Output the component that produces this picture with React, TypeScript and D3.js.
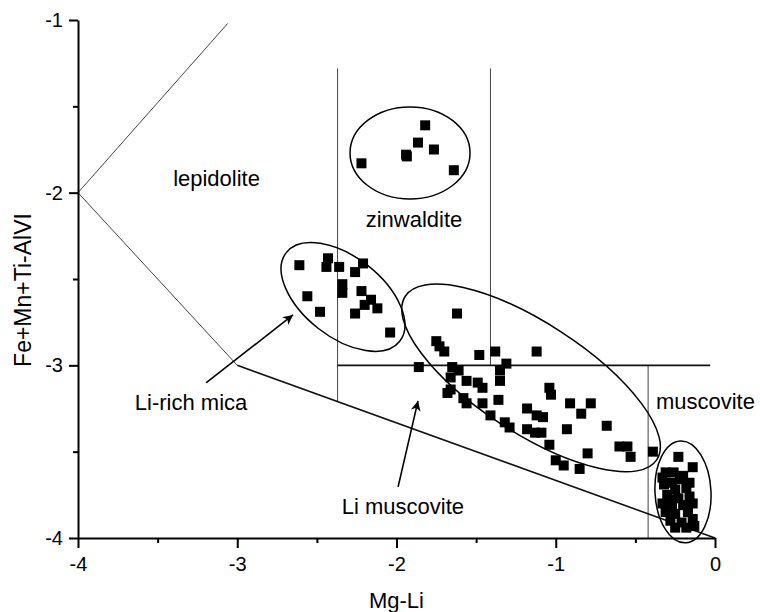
import React, { useRef, useEffect } from 'react';
import * as d3 from 'd3';

// Mg-Li (x) vs Fe+Mn+Ti-AlVI (y), one list per group
const zinwalditePts: [number, number][] = [
  [-1.82, -1.61], [-1.865, -1.71], [-1.765, -1.75], [-1.94, -1.78], [-1.935, -1.79],
  [-2.22, -1.83], [-1.64, -1.87],
];

const liRichMicaPts: [number, number][] = [
  [-2.61, -2.42], [-2.43, -2.38], [-2.44, -2.43], [-2.36, -2.43], [-2.21, -2.41],
  [-2.26, -2.46], [-2.34, -2.53], [-2.34, -2.58], [-2.22, -2.57], [-2.16, -2.62],
  [-2.2, -2.65], [-2.12, -2.67], [-2.26, -2.7], [-2.56, -2.6], [-2.48, -2.69],
  [-2.04, -2.81],
];

const liMuscovitePts: [number, number][] = [
  [-1.62, -2.7], [-1.75, -2.86], [-1.73, -2.89], [-1.7, -2.92], [-1.48, -2.94],
  [-1.38, -2.92], [-1.12, -2.92], [-1.86, -3.01], [-1.65, -3.01], [-1.61, -3.03],
  [-1.66, -3.07], [-1.31, -2.99], [-1.35, -3.03], [-1.35, -3.09], [-1.56, -3.09],
  [-1.49, -3.1], [-1.46, -3.13], [-1.68, -3.16], [-1.66, -3.14], [-1.58, -3.19],
  [-1.56, -3.22], [-1.36, -3.2], [-1.04, -3.13], [-1.03, -3.17], [-0.91, -3.22],
  [-0.78, -3.22], [-0.84, -3.28], [-1.46, -3.22], [-1.41, -3.29], [-1.18, -3.25],
  [-1.12, -3.29], [-1.08, -3.3], [-1.32, -3.33], [-1.29, -3.36], [-1.18, -3.37],
  [-1.13, -3.39], [-1.09, -3.39], [-0.93, -3.37], [-0.68, -3.35], [-1.04, -3.46],
  [-0.6, -3.47], [-0.55, -3.47], [-0.53, -3.53], [-0.8, -3.51], [-1.0, -3.55],
  [-0.95, -3.58], [-0.85, -3.6], [-0.39, -3.5],
];

const muscovitePts: [number, number][] = [
  [-0.23, -3.53], [-0.14, -3.59], [-0.33, -3.65], [-0.32, -3.69], [-0.27, -3.68],
  [-0.22, -3.66], [-0.25, -3.72], [-0.18, -3.71], [-0.3, -3.75], [-0.23, -3.77],
  [-0.16, -3.76], [-0.33, -3.8], [-0.27, -3.81], [-0.2, -3.81], [-0.14, -3.8],
  [-0.31, -3.85], [-0.25, -3.86], [-0.17, -3.85], [-0.28, -3.9], [-0.21, -3.91],
  [-0.14, -3.89], [-0.25, -3.94], [-0.18, -3.94], [-0.13, -3.93], [-0.26, -3.62],
  [-0.2, -3.64], [-0.28, -3.78], [-0.16, -3.68], [-0.31, -3.62],
];

// field boundaries in data units
const thinLines: [number, number][][] = [
  [[-4, -2], [-3.06, -1.02]],
  [[-4, -2], [-3, -3]],
  [[-2.37, -1.28], [-2.37, -3.21]],
  [[-1.41, -1.28], [-1.41, -3]],
  [[-0.42, -3], [-0.42, -4]],
];
const heavyLines: [number, number][][] = [
  [[-3, -3], [0, -4]],
  [[-2.37, -3], [-0.03, -3]],
];

const fieldLabels = [
  { text: 'lepidolite', x: -3.13, y: -1.96 },
  { text: 'zinwaldite', x: -1.89, y: -2.2 },
  { text: 'Li-rich mica', x: -3.29, y: -3.26 },
  { text: 'Li muscovite', x: -1.96, y: -3.86 },
  { text: 'muscovite', x: -0.06, y: -3.25 },
];

const groupEllipses = [
  { cx: -1.915, cy: -1.77, rx: 60, ry: 46, angle: 0 },
  { cx: -2.336, cy: -2.604, rx: 72, ry: 40, angle: 38 },
  { cx: -1.155, cy: -3.073, rx: 150, ry: 55, angle: 33 },
  { cx: -0.201, cy: -3.733, rx: 28, ry: 51, angle: -3 },
];

const arrows: [number, number][][] = [
  [[-3.196, -3.102], [-2.65, -2.708]],
  [[-1.99, -3.704], [-1.865, -3.206]],
];

const majorTicks = [-4, -3, -2, -1, 0];
const minorTicksX = [-3.5, -2.5, -1.5, -0.5];
const yMajorTicks = [-4, -3, -2, -1];
const yMinorTicks = [-3.5, -2.5, -1.5];

const App: React.FC = () => {
  const width = 760;
  const height = 612;
  const svgRef = useRef<SVGSVGElement | null>(null);
  const font = '"Liberation Sans", Arial, sans-serif';

  useEffect(() => {
    const svg = d3.select(svgRef.current);
    svg.selectAll('*').remove();

    const x = d3.scaleLinear().domain([-4, 0]).range([78, 715]);
    const y = d3.scaleLinear().domain([-4, -1]).range([538, 20]);

    // arrow head marker
    svg.append('defs').append('marker')
      .attr('id', 'arrowhead')
      .attr('viewBox', '0 0 10 10')
      .attr('refX', 10).attr('refY', 5)
      .attr('markerWidth', 18).attr('markerHeight', 10)
      .attr('markerUnits', 'userSpaceOnUse')
      .attr('orient', 'auto')
      .append('path')
      .attr('d', 'M0,0 L10,5 L0,10 L3,5 Z')
      .attr('fill', 'black');

    const line = d3.line<[number, number]>().x(d => x(d[0])).y(d => y(d[1]));

    svg.append('g').selectAll('path')
      .data(thinLines)
      .enter().append('path')
      .attr('d', d => line(d))
      .attr('fill', 'none')
      .attr('stroke', '#444')
      .attr('stroke-width', 1);

    svg.append('g').selectAll('path')
      .data(heavyLines)
      .enter().append('path')
      .attr('d', d => line(d))
      .attr('fill', 'none')
      .attr('stroke', '#111')
      .attr('stroke-width', 1.6);

    // ellipses round the groups
    svg.append('g').selectAll('ellipse')
      .data(groupEllipses)
      .enter().append('ellipse')
      .attr('transform', d => `translate(${x(d.cx)},${y(d.cy)}) rotate(${d.angle})`)
      .attr('rx', d => d.rx)
      .attr('ry', d => d.ry)
      .attr('fill', 'none')
      .attr('stroke', 'black')
      .attr('stroke-width', 1.5);

    // points
    const allPts = [...zinwalditePts, ...liRichMicaPts, ...liMuscovitePts, ...muscovitePts];
    const s = 10;
    svg.append('g').selectAll('rect')
      .data(allPts)
      .enter().append('rect')
      .attr('x', d => x(d[0]) - s / 2)
      .attr('y', d => y(d[1]) - s / 2)
      .attr('width', s)
      .attr('height', s)
      .attr('fill', 'black');

    // arrows
    svg.append('g').selectAll('path')
      .data(arrows)
      .enter().append('path')
      .attr('d', d => line(d))
      .attr('stroke', 'black')
      .attr('stroke-width', 1.6)
      .attr('marker-end', 'url(#arrowhead)');

    // field labels
    svg.append('g').selectAll('text')
      .data(fieldLabels)
      .enter().append('text')
      .attr('x', d => x(d.x))
      .attr('y', d => y(d.y))
      .attr('text-anchor', 'middle')
      .attr('font-family', font)
      .attr('font-size', 22)
      .attr('fill', 'black')
      .text(d => d.text);

    // axes
    const xAxis = svg.append('g').attr('transform', `translate(0,${y(-4)})`)
      .call(d3.axisBottom(x).tickValues(majorTicks).tickSize(10).tickSizeOuter(0).tickPadding(9)
        .tickFormat(d => String(d)));
    svg.append('g').attr('transform', `translate(0,${y(-4)})`)
      .call(d3.axisBottom(x).tickValues(minorTicksX).tickSize(5).tickFormat(() => ''))
      .select('.domain').remove();

    const yAxis = svg.append('g').attr('transform', `translate(${x(-4)},0)`)
      .call(d3.axisLeft(y).tickValues(yMajorTicks).tickSize(9).tickSizeOuter(0).tickPadding(6)
        .tickFormat(d => String(d)));
    svg.append('g').attr('transform', `translate(${x(-4)},0)`)
      .call(d3.axisLeft(y).tickValues(yMinorTicks).tickSize(5).tickFormat(() => ''))
      .select('.domain').remove();

    svg.selectAll('.domain').attr('stroke', 'black').attr('stroke-width', 2);
    svg.selectAll('.tick line').attr('stroke', 'black').attr('stroke-width', 2);
    [xAxis, yAxis].forEach(a => a.selectAll('text')
      .attr('font-family', font)
      .attr('font-size', 20)
      .attr('fill', 'black'));

    // axis titles
    svg.append('text')
      .attr('x', x(-2))
      .attr('y', 608)
      .attr('text-anchor', 'middle')
      .attr('font-family', font)
      .attr('font-size', 22)
      .text('Mg-Li');

    svg.append('text')
      .attr('transform', 'translate(31,290) rotate(-90)')
      .attr('text-anchor', 'middle')
      .attr('font-family', font)
      .attr('font-size', 23)
      .text('Fe+Mn+Ti-AlVI');
  }, []);

  return (
    <svg
      ref={svgRef}
      width={width}
      height={height}
      style={{ position: 'absolute', left: 0, top: 0, background: 'white' }}
    />
  );
};

export default App;
